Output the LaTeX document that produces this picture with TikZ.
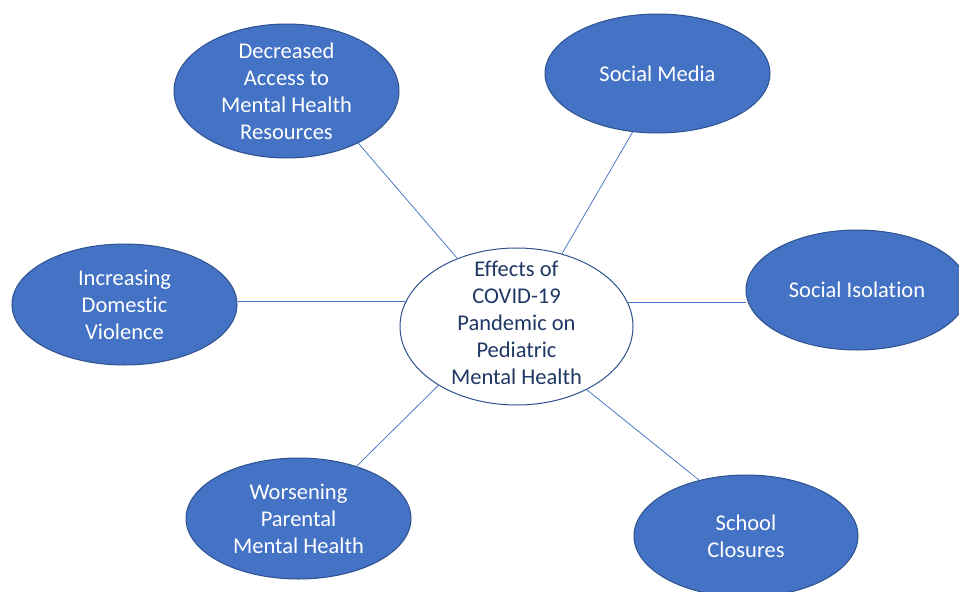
\documentclass[tikz,border=0pt]{standalone}
\usepackage{fontspec}
\setmainfont[Ligatures=NoCommon]{Carlito}
\usetikzlibrary{shapes.geometric}
\definecolor{bluefill}{HTML}{4472C4}
\definecolor{blueedge}{HTML}{2F528F}
\definecolor{navytext}{HTML}{1F3864}
\tikzset{
  bubble/.style={ellipse, draw=blueedge, line width=1pt, fill=bluefill, inner sep=0pt},
  hub/.style={ellipse, draw=blueedge, line width=1pt, fill=white, inner sep=0pt},
  btext/.style={text=white, align=center, font=\fontsize{22.5}{27}\selectfont},
  htext/.style={text=navytext, align=center, font=\fontsize{22.5}{27}\selectfont},
  link/.style={draw=bluefill, line width=0.75pt}
}
\begin{document}
\begin{tikzpicture}[x=1pt,y=-1pt]
\clip (0,0) rectangle (959,592);
\fill[white] (0,0) rectangle (959,592);
\node[hub, minimum width=233pt, minimum height=157pt,
  label={[htext, yshift=3.5pt]center:Effects of\\COVID-19\\Pandemic on\\Pediatric\\Mental Health}] (c) at (516.5,326.5) {};
\node[bubble, minimum width=225pt, minimum height=134pt,
  label={[btext]center:Decreased\\Access to\\Mental Health\\Resources}] (da) at (286.5,91) {};
\node[bubble, minimum width=225pt, minimum height=119pt,
  label={[btext]center:Social Media}] (sm) at (657.5,73.5) {};
\node[bubble, minimum width=225pt, minimum height=121pt,
  label={[btext]center:Increasing\\Domestic\\Violence}] (dv) at (124.5,304.5) {};
\node[bubble, minimum width=222pt, minimum height=120pt,
  label={[btext]center:Social Isolation}] (si) at (857,290) {};
\node[bubble, minimum width=225pt, minimum height=121pt,
  label={[btext]center:Worsening\\Parental\\Mental Health}] (wp) at (298.5,518.5) {};
\node[bubble, minimum width=224pt, minimum height=122pt,
  label={[btext]center:School\\Closures}] (sc) at (746,536) {};
\draw[link] (c.131) -- (da.-36);
\draw[link] (c.58.3) -- (sm.247.6);
\draw[link] (c.167.5) -- (c.167.5 -| dv.east);
\draw[link] (c.12.5) -- (c.12.5 -| si.west);
\draw[link] (c.217.9) -- (wp.42.9);
\draw[link] (c.-42.5) -- (sc.130.6);
\end{tikzpicture}
\end{document}
